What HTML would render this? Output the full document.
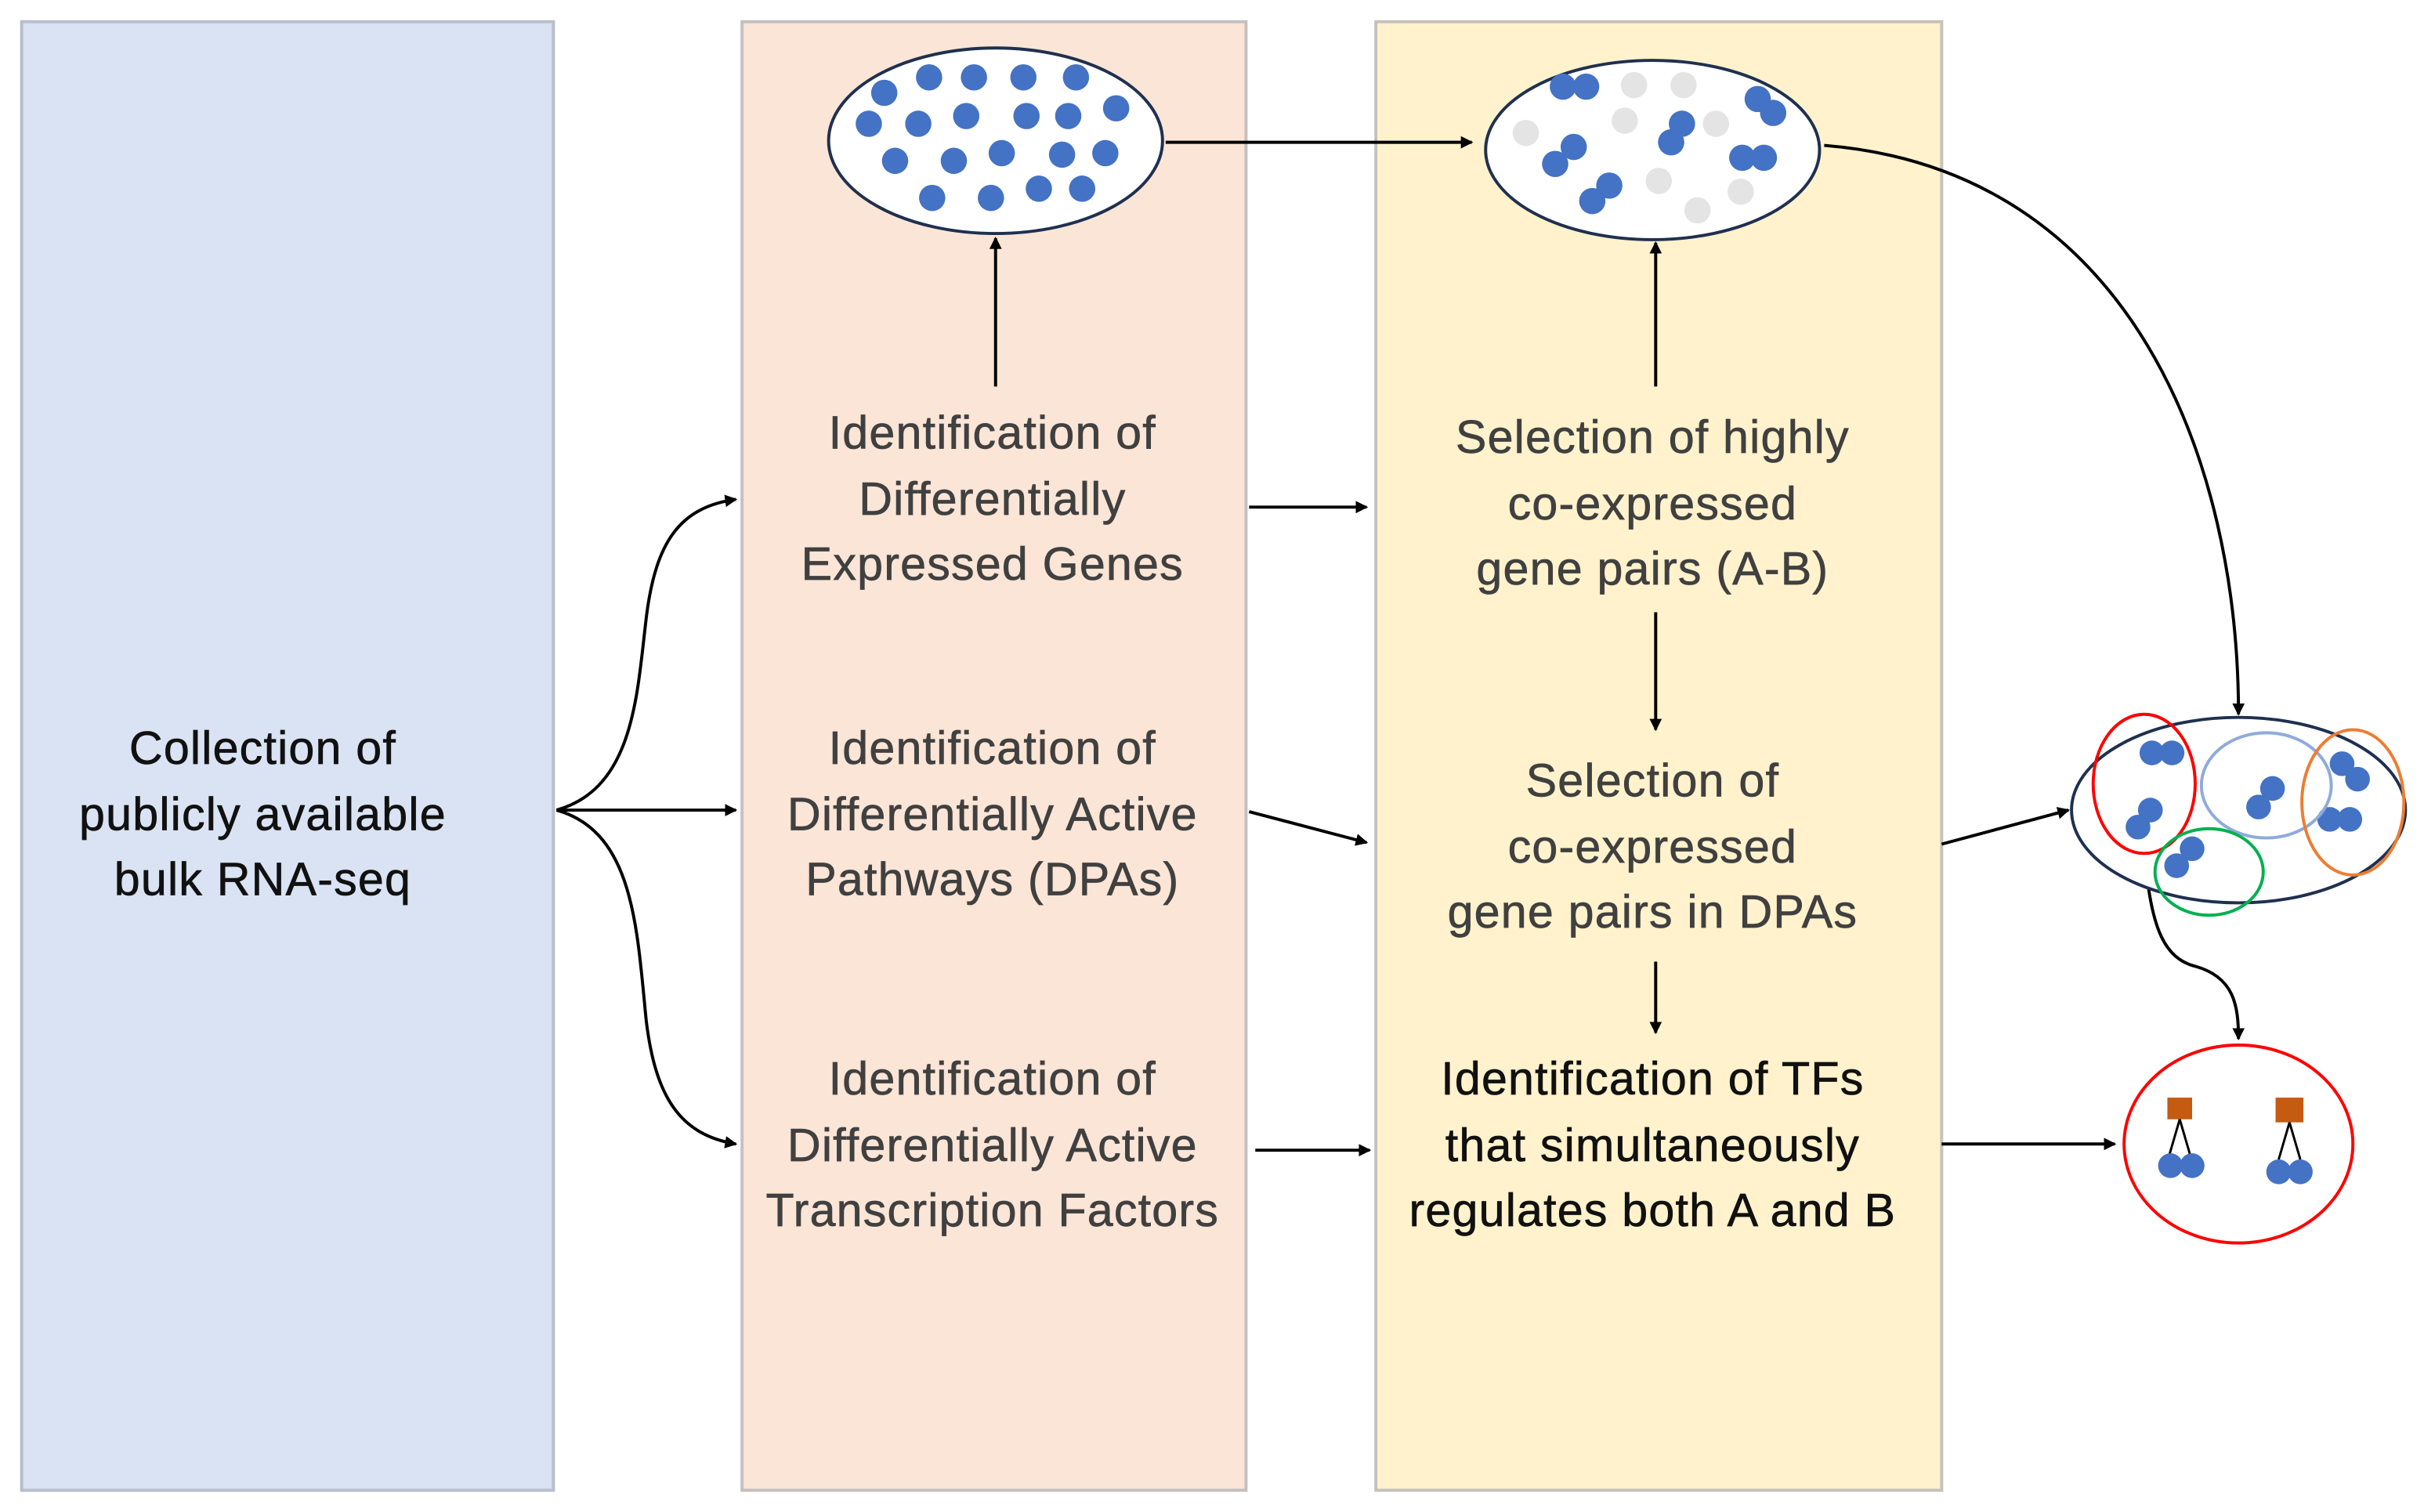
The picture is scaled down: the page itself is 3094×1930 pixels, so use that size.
<!DOCTYPE html>
<html><head><meta charset="utf-8"><style>
html,body{margin:0;padding:0;background:#fff;}
svg{display:block}
text{font-family:"Liberation Sans",sans-serif;font-size:30px;letter-spacing:0.6px;text-anchor:middle;stroke-width:0.35px;}
.g{fill:#404040;stroke:#404040}.k{fill:#111;stroke:#111}
</style></head><body>
<svg width="3094" height="1930" viewBox="0 0 1568 978" xmlns="http://www.w3.org/2000/svg">
<defs><marker id="a" markerWidth="8" markerHeight="8" refX="7" refY="4" orient="auto" markerUnits="userSpaceOnUse"><path d="M0,0 L8,4 L0,8 z" fill="#000"/></marker></defs>
<rect x="14" y="14" width="344" height="950" fill="#dae3f3" stroke="#b8bfcc" stroke-width="2"/>
<rect x="480" y="14" width="326" height="950" fill="#fbe5d6" stroke="#c4c0c0" stroke-width="2"/>
<rect x="890" y="14" width="366" height="950" fill="#fff2cc" stroke="#c4c2bc" stroke-width="2"/>

<text class="k" x="170" y="494">Collection of</text>
<text class="k" x="170" y="537">publicly available</text>
<text class="k" x="170" y="579">bulk RNA-seq</text>

<text class="g" x="642" y="290">Identification of</text>
<text class="g" x="642" y="333">Differentially</text>
<text class="g" x="642" y="375">Expressed Genes</text>
<text class="g" x="642" y="494">Identification of</text>
<text class="g" x="642" y="537">Differentially Active</text>
<text class="g" x="642" y="579">Pathways (DPAs)</text>
<text class="g" x="642" y="708">Identification of</text>
<text class="g" x="642" y="751">Differentially Active</text>
<text class="g" x="642" y="793">Transcription Factors</text>

<text class="g" x="1069" y="293">Selection of highly</text>
<text class="g" x="1069" y="336">co-expressed</text>
<text class="g" x="1069" y="378">gene pairs (A-B)</text>
<text class="g" x="1069" y="515">Selection of</text>
<text class="g" x="1069" y="558">co-expressed</text>
<text class="g" x="1069" y="600">gene pairs in DPAs</text>
<text class="k" x="1069" y="708">Identification of TFs</text>
<text class="k" x="1069" y="751">that simultaneously</text>
<text class="k" x="1069" y="793">regulates both A and B</text>

<g fill="none" stroke="#000" stroke-width="2" marker-end="url(#a)">
<path d="M360,524 C410,510 412,450 418,400 C424,350 440,328 476,323"/>
<path d="M360,524 L476,524"/>
<path d="M360,524 C410,538 412,600 418,660 C424,710 440,734 476,740"/>
<path d="M644,250 L644,154"/>
<path d="M1071,250 L1071,157"/>
<path d="M754,92 L952,92"/>
<path d="M808,328 L884,328"/>
<path d="M808,525 L884,545"/>
<path d="M812,744 L886,744"/>
<path d="M1071,396 L1071,472"/>
<path d="M1071,622 L1071,668"/>
<path d="M1180,94 C1380,110 1448,300 1448,462"/>
<path d="M1256,546 L1338,524"/>
<path d="M1256,740 L1368,740"/>
<path d="M1388,560 C1392,600 1400,620 1420,625 C1445,632 1448,650 1448,672"/>
</g>

<ellipse cx="644" cy="91" rx="108" ry="60" fill="#fff" stroke="#1f3050" stroke-width="2"/>
<g fill="#4472c4">
<circle cx="572" cy="60" r="8.5"/><circle cx="601" cy="50" r="8.5"/><circle cx="630" cy="50" r="8.5"/><circle cx="662" cy="50" r="8.5"/><circle cx="696" cy="50" r="8.5"/>
<circle cx="562" cy="80" r="8.5"/><circle cx="594" cy="80" r="8.5"/><circle cx="625" cy="75" r="8.5"/><circle cx="664" cy="75" r="8.5"/><circle cx="691" cy="75" r="8.5"/><circle cx="722" cy="70" r="8.5"/>
<circle cx="579" cy="104" r="8.5"/><circle cx="617" cy="104" r="8.5"/><circle cx="648" cy="99" r="8.5"/><circle cx="687" cy="100" r="8.5"/><circle cx="715" cy="99" r="8.5"/>
<circle cx="603" cy="128" r="8.5"/><circle cx="641" cy="128" r="8.5"/><circle cx="672" cy="122" r="8.5"/><circle cx="700" cy="122" r="8.5"/>
</g>

<ellipse cx="1069" cy="97" rx="108" ry="58" fill="#fff" stroke="#1f3050" stroke-width="2"/>
<g fill="#e4e4e4">
<circle cx="1057" cy="55" r="8.5"/><circle cx="1089" cy="55" r="8.5"/><circle cx="987" cy="86" r="8.5"/><circle cx="1051" cy="78" r="8.5"/><circle cx="1110" cy="80" r="8.5"/><circle cx="1073" cy="117" r="8.5"/><circle cx="1126" cy="124" r="8.5"/><circle cx="1098" cy="136" r="8.5"/>
</g>
<g fill="#4472c4">
<circle cx="1011" cy="56" r="8.5"/><circle cx="1026" cy="56" r="8.5"/>
<circle cx="1137" cy="64" r="8.5"/><circle cx="1147" cy="73" r="8.5"/>
<circle cx="1088" cy="80" r="8.5"/><circle cx="1081" cy="92" r="8.5"/>
<circle cx="1018" cy="95" r="8.5"/><circle cx="1006" cy="106" r="8.5"/>
<circle cx="1127" cy="102" r="8.5"/><circle cx="1141" cy="102" r="8.5"/>
<circle cx="1041" cy="120" r="8.5"/><circle cx="1030" cy="130" r="8.5"/>
</g>

<ellipse cx="1448" cy="524" rx="108" ry="60" fill="#fff" stroke="#1f3050" stroke-width="2"/>
<g fill="#4472c4">
<circle cx="1392" cy="487" r="8"/><circle cx="1405" cy="487" r="8"/>
<circle cx="1391" cy="524" r="8"/><circle cx="1383" cy="535" r="8"/>
<circle cx="1470" cy="510" r="8"/><circle cx="1461" cy="522" r="8"/>
<circle cx="1515" cy="494" r="8"/><circle cx="1525" cy="504" r="8"/>
<circle cx="1507" cy="530" r="8"/><circle cx="1520" cy="530" r="8"/>
<circle cx="1418" cy="549" r="8"/><circle cx="1408" cy="560" r="8"/>
</g>
<g fill="none" stroke-width="2">
<ellipse cx="1387" cy="507" rx="33" ry="45" stroke="#ff0000"/>
<ellipse cx="1466" cy="508" rx="42" ry="34" stroke="#8faadc"/>
<ellipse cx="1522" cy="519" rx="33" ry="47" stroke="#ed7d31"/>
<ellipse cx="1429" cy="564" rx="35" ry="28" stroke="#00b050"/>
</g>

<ellipse cx="1448" cy="740" rx="74" ry="64" fill="#fff" stroke="#ff0000" stroke-width="2"/>
<rect x="1402" y="710" width="16" height="14" fill="#c55a11"/>
<rect x="1472" y="710" width="18" height="16" fill="#c55a11"/>
<g stroke="#000" stroke-width="1.5" fill="none">
<path d="M1410,724 L1403,748 M1410,724 L1417,748"/>
<path d="M1481,726 L1474,750 M1481,726 L1488,750"/>
</g>
<g fill="#4472c4">
<circle cx="1404" cy="754" r="8"/><circle cx="1418" cy="754" r="8"/>
<circle cx="1474" cy="758" r="8"/><circle cx="1488" cy="758" r="8"/>
</g>
</svg>
</body></html>
